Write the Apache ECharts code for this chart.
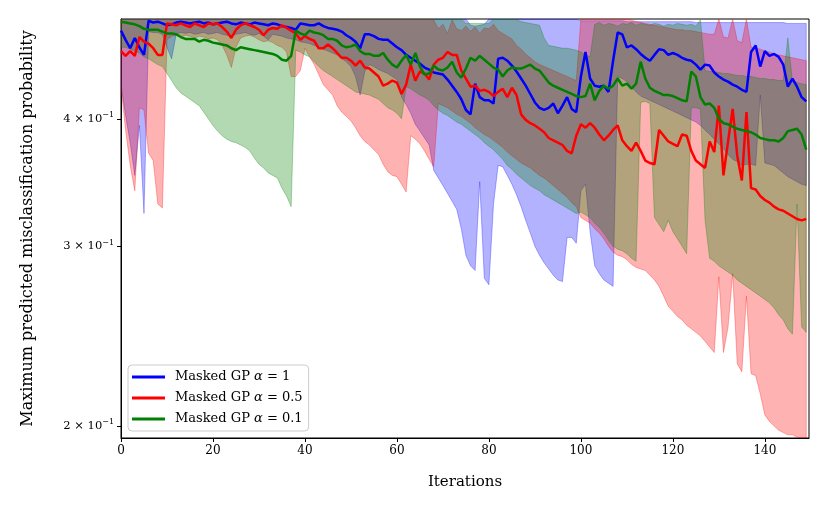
<!DOCTYPE html>
<html>
<head>
<meta charset="utf-8">
<script src="https://cdn.jsdelivr.net/npm/echarts@6.0.0/dist/echarts.min.js"></script>
<style>
  html, body { margin: 0; padding: 0; background: #fff; }
  #chart { width: 830px; height: 513px; }
</style>
</head>
<body>
<div id="chart"></div>
<script>
// --- data (150 iterations) ---
var iterations = [];
for (var k = 0; k < 150; k++) iterations.push(k);

var seriesNames = ['Masked GP α = 1', 'Masked GP α = 0.5', 'Masked GP α = 0.1'];
var yTicks = [0.2, 0.3, 0.4];
var xTicks = [0, 20, 40, 60, 80, 100, 120, 140];

// alpha = 1 (blue)
var blueMean = [
  0.488, 0.478, 0.469, 0.480, 0.470, 0.462, 0.499, 0.497, 0.498, 0.496,
  0.494, 0.495, 0.497, 0.498, 0.497, 0.496, 0.497, 0.498, 0.496, 0.497,
  0.495, 0.496, 0.497, 0.498, 0.496, 0.495, 0.497, 0.496, 0.495, 0.497,
  0.496, 0.495, 0.494, 0.496, 0.495, 0.493, 0.492, 0.491, 0.489, 0.496,
  0.495, 0.494, 0.494, 0.496, 0.493, 0.491, 0.490, 0.489, 0.487, 0.483,
  0.480, 0.476, 0.469, 0.484, 0.484, 0.482, 0.479, 0.478, 0.478, 0.474,
  0.470, 0.467, 0.462, 0.459, 0.456, 0.453, 0.449, 0.447, 0.444, 0.443,
  0.442, 0.437, 0.431, 0.425, 0.418, 0.408, 0.404, 0.433, 0.420, 0.417,
  0.417, 0.414, 0.458, 0.459, 0.456, 0.451, 0.445, 0.438, 0.431, 0.423,
  0.415, 0.410, 0.408, 0.410, 0.414, 0.405, 0.412, 0.420, 0.409, 0.406,
  0.440, 0.465, 0.438, 0.431, 0.430, 0.431, 0.425, 0.456, 0.486, 0.484,
  0.470, 0.472, 0.468, 0.463, 0.459, 0.456, 0.462, 0.468, 0.467, 0.462,
  0.464, 0.462, 0.459, 0.457, 0.456, 0.452, 0.447, 0.452, 0.451, 0.444,
  0.440, 0.437, 0.435, 0.432, 0.430, 0.427, 0.425, 0.465, 0.472, 0.450,
  0.466, 0.461, 0.463, 0.460, 0.452, 0.430, 0.438, 0.430, 0.420, 0.416
];
var blueLower = [
  0.432, 0.403, 0.379, 0.352, 0.394, 0.323, 0.487, 0.486, 0.486, 0.484,
  0.470, 0.458, 0.484, 0.486, 0.485, 0.486, 0.484, 0.485, 0.486, 0.484,
  0.485, 0.486, 0.484, 0.483, 0.482, 0.484, 0.485, 0.486, 0.484, 0.483,
  0.485, 0.482, 0.478, 0.484, 0.483, 0.482, 0.480, 0.479, 0.478, 0.476,
  0.475, 0.474, 0.472, 0.470, 0.468, 0.466, 0.464, 0.462, 0.458, 0.455,
  0.450, 0.440, 0.422, 0.445, 0.452, 0.450, 0.447, 0.445, 0.443, 0.440,
  0.437, 0.420, 0.413, 0.405, 0.395, 0.389, 0.383, 0.377, 0.356, 0.350,
  0.344, 0.338, 0.332, 0.326, 0.312, 0.294, 0.287, 0.284, 0.347, 0.279,
  0.275, 0.330, 0.360, 0.359, 0.352, 0.345, 0.337, 0.328, 0.318, 0.309,
  0.300, 0.294, 0.289, 0.285, 0.281, 0.278, 0.277, 0.306, 0.306, 0.302,
  0.340, 0.345, 0.310, 0.287, 0.282, 0.278, 0.276, 0.274, 0.440, 0.438,
  0.435, 0.430, 0.425, 0.421, 0.419, 0.417, 0.415, 0.413, 0.411, 0.409,
  0.407, 0.405, 0.403, 0.401, 0.399, 0.397, 0.394, 0.390, 0.386, 0.382,
  0.378, 0.374, 0.369, 0.365, 0.363, 0.360, 0.361, 0.361, 0.360, 0.422,
  0.362, 0.361, 0.360, 0.357, 0.354, 0.351, 0.349, 0.347, 0.345, 0.344
];
var blueUpper = [
  0.51, 0.51, 0.51, 0.51, 0.51, 0.51, 0.51, 0.51, 0.51, 0.51,
  0.51, 0.51, 0.51, 0.51, 0.51, 0.51, 0.51, 0.51, 0.51, 0.51,
  0.51, 0.51, 0.51, 0.51, 0.51, 0.51, 0.51, 0.51, 0.51, 0.51,
  0.51, 0.51, 0.51, 0.51, 0.51, 0.51, 0.51, 0.51, 0.51, 0.51,
  0.51, 0.51, 0.51, 0.51, 0.51, 0.51, 0.51, 0.51, 0.51, 0.51,
  0.51, 0.51, 0.51, 0.51, 0.51, 0.51, 0.51, 0.51, 0.51, 0.51,
  0.51, 0.51, 0.51, 0.51, 0.51, 0.51, 0.51, 0.51, 0.51, 0.51,
  0.51, 0.51, 0.51, 0.51, 0.51, 0.51, 0.494, 0.493, 0.494, 0.495,
  0.51, 0.51, 0.51, 0.51, 0.51, 0.51, 0.51, 0.51, 0.51, 0.51,
  0.51, 0.51, 0.51, 0.51, 0.51, 0.51, 0.51, 0.51, 0.51, 0.51,
  0.499, 0.499, 0.499, 0.499, 0.499, 0.499, 0.499, 0.499, 0.499, 0.499,
  0.498, 0.498, 0.498, 0.498, 0.498, 0.498, 0.498, 0.498, 0.498, 0.498,
  0.498, 0.498, 0.498, 0.498, 0.498, 0.497, 0.497, 0.497, 0.497, 0.497,
  0.497, 0.497, 0.497, 0.497, 0.497, 0.497, 0.497, 0.497, 0.497, 0.497,
  0.497, 0.497, 0.497, 0.497, 0.497, 0.496, 0.496, 0.496, 0.496, 0.496
];

// alpha = 0.5 (red)
var redMean = [
  0.466, 0.461, 0.466, 0.461, 0.481, 0.476, 0.474, 0.469, 0.462, 0.462,
  0.496, 0.495, 0.494, 0.496, 0.494, 0.492, 0.496, 0.494, 0.492, 0.496,
  0.495, 0.496, 0.492, 0.487, 0.480, 0.489, 0.494, 0.496, 0.494, 0.492,
  0.489, 0.483, 0.489, 0.491, 0.490, 0.494, 0.491, 0.488, 0.485, 0.478,
  0.482, 0.479, 0.477, 0.469, 0.469, 0.473, 0.469, 0.464, 0.459, 0.459,
  0.456, 0.451, 0.456, 0.449, 0.448, 0.444, 0.440, 0.431, 0.433, 0.436,
  0.434, 0.423, 0.432, 0.452, 0.436, 0.445, 0.443, 0.437, 0.452, 0.457,
  0.459, 0.465, 0.462, 0.462, 0.446, 0.438, 0.430, 0.431, 0.426, 0.427,
  0.425, 0.421, 0.425, 0.428, 0.420, 0.429, 0.422, 0.404, 0.399, 0.396,
  0.394, 0.391, 0.388, 0.383, 0.381, 0.379, 0.377, 0.372, 0.370, 0.385,
  0.395, 0.392, 0.396, 0.392, 0.386, 0.381, 0.385, 0.390, 0.394, 0.381,
  0.376, 0.372, 0.379, 0.372, 0.364, 0.362, 0.361, 0.390, 0.385, 0.380,
  0.378, 0.376, 0.386, 0.385, 0.372, 0.364, 0.361, 0.358, 0.380, 0.371,
  0.412, 0.352, 0.380, 0.409, 0.368, 0.348, 0.406, 0.342, 0.341, 0.336,
  0.333, 0.331, 0.328, 0.326, 0.325, 0.323, 0.321, 0.319, 0.318, 0.319
];
var redLower = [
  0.430, 0.390, 0.360, 0.340, 0.410, 0.408, 0.370, 0.364, 0.330, 0.327,
  0.478, 0.482, 0.483, 0.481, 0.483, 0.482, 0.480, 0.482, 0.481, 0.479,
  0.480, 0.478, 0.472, 0.462, 0.449, 0.470, 0.480, 0.482, 0.483, 0.481,
  0.478, 0.476, 0.477, 0.475, 0.472, 0.470, 0.465, 0.440, 0.440, 0.446,
  0.469, 0.460, 0.452, 0.442, 0.432, 0.427, 0.422, 0.412, 0.406, 0.402,
  0.398, 0.392, 0.385, 0.380, 0.377, 0.373, 0.369, 0.361, 0.355, 0.352,
  0.351, 0.345, 0.339, 0.385, 0.382, 0.378, 0.372, 0.365, 0.359, 0.414,
  0.412, 0.410, 0.407, 0.404, 0.402, 0.399, 0.396, 0.392, 0.389, 0.386,
  0.384, 0.381, 0.378, 0.375, 0.371, 0.368, 0.365, 0.362, 0.360, 0.358,
  0.355, 0.352, 0.350, 0.347, 0.344, 0.341, 0.338, 0.335, 0.331, 0.328,
  0.320, 0.318, 0.316, 0.312, 0.309, 0.305, 0.300, 0.296, 0.294, 0.293,
  0.291, 0.288, 0.286, 0.285, 0.284, 0.281, 0.278, 0.274, 0.268, 0.262,
  0.259, 0.256, 0.254, 0.251, 0.249, 0.247, 0.245, 0.242, 0.239, 0.236,
  0.280, 0.236, 0.250, 0.282, 0.230, 0.226, 0.268, 0.225, 0.224, 0.215,
  0.205, 0.202, 0.200, 0.198, 0.197, 0.196, 0.196, 0.195, 0.194, 0.193
];
var redUpper = [
  0.51, 0.51, 0.51, 0.51, 0.51, 0.51, 0.51, 0.51, 0.51, 0.51,
  0.51, 0.51, 0.51, 0.51, 0.51, 0.51, 0.51, 0.51, 0.51, 0.51,
  0.51, 0.51, 0.51, 0.51, 0.51, 0.51, 0.51, 0.51, 0.51, 0.51,
  0.51, 0.51, 0.51, 0.51, 0.51, 0.51, 0.51, 0.51, 0.51, 0.51,
  0.51, 0.51, 0.51, 0.51, 0.51, 0.51, 0.51, 0.51, 0.51, 0.51,
  0.51, 0.51, 0.51, 0.51, 0.51, 0.51, 0.51, 0.51, 0.51, 0.51,
  0.51, 0.51, 0.51, 0.51, 0.51, 0.51, 0.51, 0.51, 0.500, 0.490,
  0.495, 0.485, 0.500, 0.490, 0.488, 0.493, 0.487, 0.492, 0.485, 0.491,
  0.490, 0.495, 0.488, 0.485, 0.482, 0.479, 0.472, 0.468, 0.463, 0.459,
  0.455, 0.452, 0.450, 0.448, 0.446, 0.444, 0.442, 0.440, 0.438, 0.436,
  0.51, 0.51, 0.51, 0.51, 0.51, 0.51, 0.51, 0.51, 0.51, 0.51,
  0.51, 0.500, 0.498, 0.497, 0.496, 0.495, 0.494, 0.493, 0.492, 0.491,
  0.490, 0.489, 0.489, 0.488, 0.488, 0.487, 0.486, 0.485, 0.484, 0.484,
  0.505, 0.481, 0.480, 0.505, 0.477, 0.475, 0.505, 0.470, 0.469, 0.468,
  0.466, 0.465, 0.463, 0.462, 0.461, 0.460, 0.459, 0.458, 0.457, 0.456
];

// alpha = 0.1 (green)
var greenMean = [
  0.498, 0.497, 0.496, 0.495, 0.493, 0.490, 0.489, 0.489, 0.489, 0.487,
  0.485, 0.485, 0.484, 0.481, 0.479, 0.479, 0.479, 0.476, 0.478, 0.477,
  0.475, 0.474, 0.473, 0.472, 0.469, 0.467, 0.470, 0.469, 0.468, 0.467,
  0.466, 0.465, 0.464, 0.463, 0.461, 0.457, 0.456, 0.461, 0.488, 0.485,
  0.483, 0.488, 0.486, 0.485, 0.483, 0.479, 0.479, 0.477, 0.472, 0.470,
  0.471, 0.473, 0.466, 0.463, 0.463, 0.461, 0.461, 0.464, 0.457, 0.452,
  0.449, 0.456, 0.462, 0.452, 0.464, 0.450, 0.442, 0.443, 0.451, 0.447,
  0.446, 0.449, 0.455, 0.444, 0.439, 0.448, 0.459, 0.456, 0.461, 0.457,
  0.453, 0.449, 0.447, 0.440, 0.446, 0.449, 0.448, 0.448, 0.450, 0.452,
  0.448, 0.446, 0.440, 0.434, 0.431, 0.429, 0.427, 0.425, 0.423, 0.421,
  0.420, 0.421, 0.433, 0.417, 0.426, 0.431, 0.428, 0.431, 0.438, 0.431,
  0.433, 0.428, 0.433, 0.455, 0.438, 0.429, 0.426, 0.424, 0.422, 0.422,
  0.421, 0.419, 0.417, 0.416, 0.445, 0.440, 0.420, 0.413, 0.414, 0.410,
  0.400, 0.396, 0.395, 0.393, 0.391, 0.390, 0.389, 0.388, 0.386, 0.383,
  0.382, 0.381, 0.381, 0.380, 0.383, 0.389, 0.390, 0.391, 0.386, 0.373
];
var greenLower = [
  0.470, 0.470, 0.468, 0.466, 0.464, 0.460, 0.458, 0.455, 0.452, 0.450,
  0.443, 0.436, 0.429, 0.424, 0.421, 0.418, 0.415, 0.412, 0.406, 0.400,
  0.394, 0.389, 0.385, 0.382, 0.380, 0.379, 0.377, 0.375, 0.372, 0.366,
  0.361, 0.358, 0.354, 0.352, 0.350, 0.342, 0.336, 0.328, 0.467, 0.465,
  0.462, 0.460, 0.455, 0.450, 0.446, 0.443, 0.440, 0.437, 0.434, 0.431,
  0.428, 0.425, 0.424, 0.423, 0.422, 0.420, 0.418, 0.414, 0.410, 0.408,
  0.405, 0.400, 0.430, 0.428, 0.425, 0.422, 0.420, 0.417, 0.412, 0.408,
  0.405, 0.403, 0.400, 0.397, 0.395, 0.392, 0.389, 0.386, 0.383, 0.379,
  0.376, 0.373, 0.369, 0.365, 0.360, 0.357, 0.353, 0.350, 0.347, 0.344,
  0.342, 0.340, 0.337, 0.335, 0.333, 0.331, 0.329, 0.327, 0.325, 0.323,
  0.324, 0.322, 0.320, 0.316, 0.313, 0.309, 0.304, 0.300, 0.298, 0.297,
  0.295, 0.292, 0.290, 0.415, 0.416, 0.414, 0.320, 0.315, 0.310, 0.318,
  0.310, 0.305, 0.300, 0.295, 0.410, 0.410, 0.409, 0.318, 0.292, 0.290,
  0.287, 0.285, 0.283, 0.281, 0.278, 0.276, 0.274, 0.272, 0.270, 0.268,
  0.266, 0.264, 0.261, 0.257, 0.254, 0.249, 0.246, 0.330, 0.250, 0.247
];
var greenUpper = [
  0.51, 0.51, 0.51, 0.51, 0.51, 0.51, 0.51, 0.51, 0.51, 0.51,
  0.51, 0.51, 0.51, 0.51, 0.51, 0.51, 0.51, 0.51, 0.51, 0.51,
  0.51, 0.51, 0.51, 0.51, 0.51, 0.51, 0.51, 0.51, 0.51, 0.51,
  0.51, 0.51, 0.51, 0.51, 0.51, 0.51, 0.51, 0.51, 0.51, 0.51,
  0.51, 0.51, 0.51, 0.51, 0.51, 0.51, 0.51, 0.51, 0.51, 0.51,
  0.51, 0.51, 0.51, 0.51, 0.51, 0.51, 0.51, 0.51, 0.51, 0.51,
  0.51, 0.51, 0.51, 0.51, 0.51, 0.51, 0.51, 0.51, 0.51, 0.51,
  0.51, 0.51, 0.51, 0.51, 0.51, 0.496, 0.496, 0.496, 0.496, 0.496,
  0.496, 0.51, 0.51, 0.51, 0.51, 0.51, 0.500, 0.498, 0.497, 0.496,
  0.495, 0.494, 0.480, 0.472, 0.471, 0.470, 0.469, 0.469, 0.468, 0.467,
  0.465, 0.462, 0.460, 0.495, 0.497, 0.494, 0.496, 0.495, 0.493, 0.496,
  0.495, 0.497, 0.494, 0.496, 0.495, 0.494, 0.496, 0.495, 0.493, 0.495,
  0.494, 0.496, 0.495, 0.494, 0.495, 0.493, 0.500, 0.446, 0.445, 0.445,
  0.444, 0.443, 0.443, 0.442, 0.441, 0.441, 0.440, 0.440, 0.439, 0.438,
  0.438, 0.437, 0.437, 0.436, 0.436, 0.480, 0.435, 0.434, 0.433, 0.432
];

var Y_MIN = 0.1946, Y_MAX = 0.501;
var FONT = 'DejaVu Serif';

var colors = ['#0000ff', '#ff0000', '#008000'];
var fills = ['rgba(0,0,255,0.3)', 'rgba(255,0,0,0.3)', 'rgba(0,128,0,0.3)'];
var means = [blueMean, redMean, greenMean];
var lowers = [blueLower, redLower, greenLower];
var uppers = [blueUpper, redUpper, greenUpper];

// shaded band between lower and upper, drawn as one polygon in axis coords
function bandSeries(idx) {
    var lower = lowers[idx], upper = uppers[idx];
    return {
        type: 'custom',
        name: seriesNames[idx] + ' band',
        silent: true,
        clip: true,
        z: 1,
        data: [[0, lower[0]]],
        renderItem: function (params, api) {
            var pts = [];
            for (var i = 0; i < iterations.length; i++) {
                pts.push(api.coord([iterations[i], Math.min(upper[i], Y_MAX)]));
            }
            for (var j = iterations.length - 1; j >= 0; j--) {
                pts.push(api.coord([iterations[j], Math.max(lower[j], Y_MIN)]));
            }
            return {
                type: 'polygon',
                shape: {points: pts},
                style: {fill: fills[idx], stroke: fills[idx], lineWidth: 1}
            };
        }
    };
}

function lineSeries(idx) {
    return {
        type: 'line',
        name: seriesNames[idx],
        z: 3,
        showSymbol: false,
        symbol: 'none',
        color: colors[idx],
        lineStyle: {color: colors[idx], width: 2.5},
        data: iterations.map(function (x, i) { return [x, means[idx][i]]; })
    };
}

var series = [bandSeries(0), bandSeries(1), bandSeries(2), lineSeries(0), lineSeries(1), lineSeries(2)];

var chart = echarts.init(document.getElementById('chart'), null, {renderer: 'canvas'});
chart.setOption({
    animation: false,
    backgroundColor: '#fff',
    grid: {
        left: 121, top: 19, right: 21, bottom: 75,
        show: true, borderColor: '#000', borderWidth: 1, backgroundColor: 'transparent'
    },
    legend: {
        data: seriesNames,
        orient: 'vertical',
        left: 128, top: 365,
        padding: [5, 6, 5, 4],
        itemWidth: 33, itemHeight: 3, itemGap: 7,
        icon: 'rect',
        borderColor: '#cccccc', borderWidth: 1, borderRadius: 4,
        backgroundColor: 'rgba(255,255,255,0.8)',
        formatter: function (name) { return name.replace('α', '{i|α}'); },
        textStyle: {
            fontFamily: FONT, fontSize: 13, color: '#000', lineHeight: 14, padding: [0, 0, 0, 5],
            rich: {i: {fontFamily: FONT, fontSize: 13, fontStyle: 'italic', color: '#000'}}
        }
    },
    xAxis: {
        type: 'value', min: 0, max: 149.6, interval: 20,
        name: 'Iterations', nameLocation: 'middle', nameGap: 37,
        nameTextStyle: {fontFamily: FONT, fontSize: 15, color: '#000'},
        axisLine: {show: true, onZero: false, lineStyle: {color: '#000', width: 1}},
        axisTick: {show: true, length: 4, inside: false, customValues: xTicks, lineStyle: {color: '#000'}},
        axisLabel: {customValues: xTicks, fontFamily: FONT, fontSize: 12, color: '#000', margin: 7},
        splitLine: {show: false}
    },
    yAxis: {
        type: 'log', logBase: 10, min: Y_MIN, max: Y_MAX,
        name: 'Maximum predicted misclassification probability',
        nameLocation: 'middle', nameGap: 85, nameRotate: 90,
        nameTextStyle: {fontFamily: FONT, fontSize: 16, color: '#000'},
        axisLine: {show: true, lineStyle: {color: '#000', width: 1}},
        axisTick: {show: true, length: 4, customValues: yTicks, lineStyle: {color: '#000'}},
        axisLabel: {
            customValues: yTicks, margin: 7, color: '#000',
            formatter: function (v) { return '{n|' + Math.round(v * 10) + ' × 10}{s|−1}'; },
            rich: {
                n: {fontFamily: FONT, fontSize: 11.5, color: '#000'},
                s: {fontFamily: FONT, fontSize: 8, color: '#000', padding: [0, 0, 7, 0]}
            }
        },
        splitLine: {show: false},
        minorTick: {show: false}
    },
    series: series
});
</script>
</body>
</html>
